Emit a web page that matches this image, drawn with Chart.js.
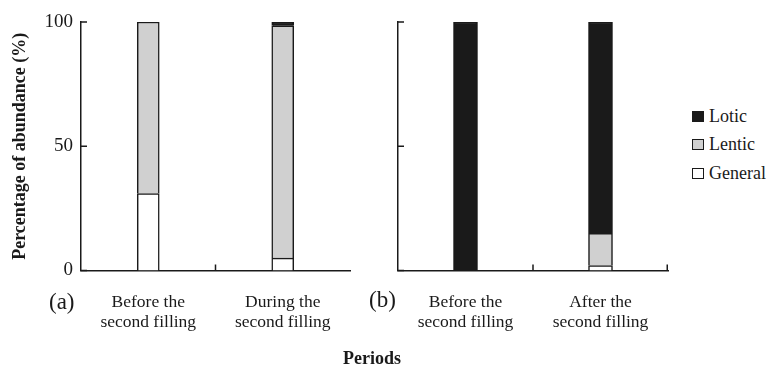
<!DOCTYPE html>
<html>
<head>
<meta charset="utf-8">
<script src="https://cdn.jsdelivr.net/npm/chart.js@4.4.1/dist/chart.umd.min.js"></script>
<style>
  body { margin: 0; background: #fff; }
  #wrap { position: relative; width: 775px; height: 367px; font-family: 'Liberation Serif', 'Times New Roman', serif; color: #1a1a1a; }
  canvas { position: absolute; top: 0; }
  .lbl { position: absolute; white-space: nowrap; line-height: 1; }
  #legend { position: absolute; left: 692px; top: 102px; }
  .item { display: flex; align-items: center; height: 28.5px; font-size: 18px; }
  .box { width: 10px; height: 9px; border: 1px solid #1a1a1a; margin-right: 5px; }
</style>
</head>
<body>
<div id="wrap">
  <canvas id="chartA" width="360" height="367" style="left:0px"></canvas>
  <canvas id="chartB" width="320" height="367" style="left:360px"></canvas>
  <div class="lbl" style="left:49px; top:290px; font-size:23px;">(a)</div>
  <div class="lbl" style="left:369px; top:288px; font-size:23px;">(b)</div>
  <div class="lbl" style="left:343px; top:349px; font-size:18px; font-weight:bold;">Periods</div>
  <div id="legend"></div>
</div>
<script>
// panel (a)
const periodsA = [['Before the', 'second filling'], ['During the', 'second filling']];
const generalA = [31, 5];
const lenticA = [69, 93.5];
const loticA = [0, 1.5];

// panel (b)
const periodsB = [['Before the', 'second filling'], ['After the', 'second filling']];
const generalB = [0, 2];
const lenticB = [0, 13];
const loticB = [100, 85];

const yTicks = [0, 50, 100];
const groups = ['General', 'Lentic', 'Lotic'];
const fills = ['#ffffff', '#d0d0d0', '#1a1a1a'];
const ink = '#1a1a1a';
const serif = 'Liberation Serif';

// inward tick marks on both axes
const tickMarks = {
  id: 'tickMarks',
  afterDraw(chart, args, opts) {
    const { ctx, chartArea, scales } = chart;
    ctx.save();
    ctx.strokeStyle = ink;
    ctx.lineWidth = 1.5;
    ctx.beginPath();
    yTicks.forEach(v => {
      const y = scales.y.getPixelForValue(v);
      ctx.moveTo(chartArea.left, y);
      ctx.lineTo(chartArea.left + 6, y);
    });
    const xs = [(scales.x.getPixelForTick(0) + scales.x.getPixelForTick(1)) / 2];
    if (opts.endTick) xs.push(chartArea.right - 0.75);
    xs.forEach(x => {
      ctx.moveTo(x, chartArea.bottom);
      ctx.lineTo(x, chartArea.bottom - 6);
    });
    ctx.stroke();
    ctx.restore();
  }
};

function makeChart(id, labels, series, opts) {
  return new Chart(document.getElementById(id), {
    type: 'bar',
    data: {
      labels: labels,
      datasets: series.map((d, i) => ({
        label: groups[i],
        // empty segments get no outline
        data: d.map(v => (v === 0 ? null : v)),
        backgroundColor: fills[i],
        borderColor: ink,
        borderWidth: 1.5,
        borderSkipped: 'start',
        barThickness: opts.barW
      }))
    },
    options: {
      responsive: false,
      animation: false,
      layout: { padding: { top: 22, right: opts.padRight, left: 0, bottom: 0 } },
      plugins: {
        legend: { display: false },
        tooltip: { enabled: false },
        tickMarks: { endTick: opts.endTick }
      },
      scales: {
        x: {
          stacked: true,
          grid: { display: false, drawTicks: false },
          border: { display: true, color: ink, width: 1.5 },
          ticks: {
            color: ink,
            padding: 21.5,
            font: { family: serif, size: 17.5, lineHeight: 1.143 }
          },
          afterFit: s => { s.height = 96.5; }
        },
        y: {
          stacked: true,
          min: 0,
          max: 100,
          grid: { display: false, drawTicks: false },
          border: { display: true, color: ink, width: 1.5 },
          ticks: {
            display: opts.yLabels,
            stepSize: 50,
            color: ink,
            padding: 8,
            font: { family: serif, size: 19 }
          },
          title: {
            display: opts.yLabels,
            text: 'Percentage of abundance (%)',
            color: ink,
            padding: { top: 10, bottom: 0 },
            font: { family: serif, size: 18, weight: 'bold' }
          },
          afterFit: s => { s.width = opts.yWidth; }
        }
      }
    },
    plugins: [tickMarks]
  });
}

makeChart('chartA', periodsA, [generalA, lenticA, loticA],
  { barW: 22, padRight: 10, yWidth: 81, yLabels: true, endTick: false });
makeChart('chartB', periodsB, [generalB, lenticB, loticB],
  { barW: 24, padRight: 12, yWidth: 38, yLabels: false, endTick: true });

// legend, top to bottom: Lotic, Lentic, General
const legend = document.getElementById('legend');
groups.slice().reverse().forEach(g => {
  const i = groups.indexOf(g);
  const row = document.createElement('div');
  row.className = 'item';
  const box = document.createElement('span');
  box.className = 'box';
  box.style.background = fills[i];
  row.appendChild(box);
  row.appendChild(document.createTextNode(g));
  legend.appendChild(row);
});
</script>
</body>
</html>
